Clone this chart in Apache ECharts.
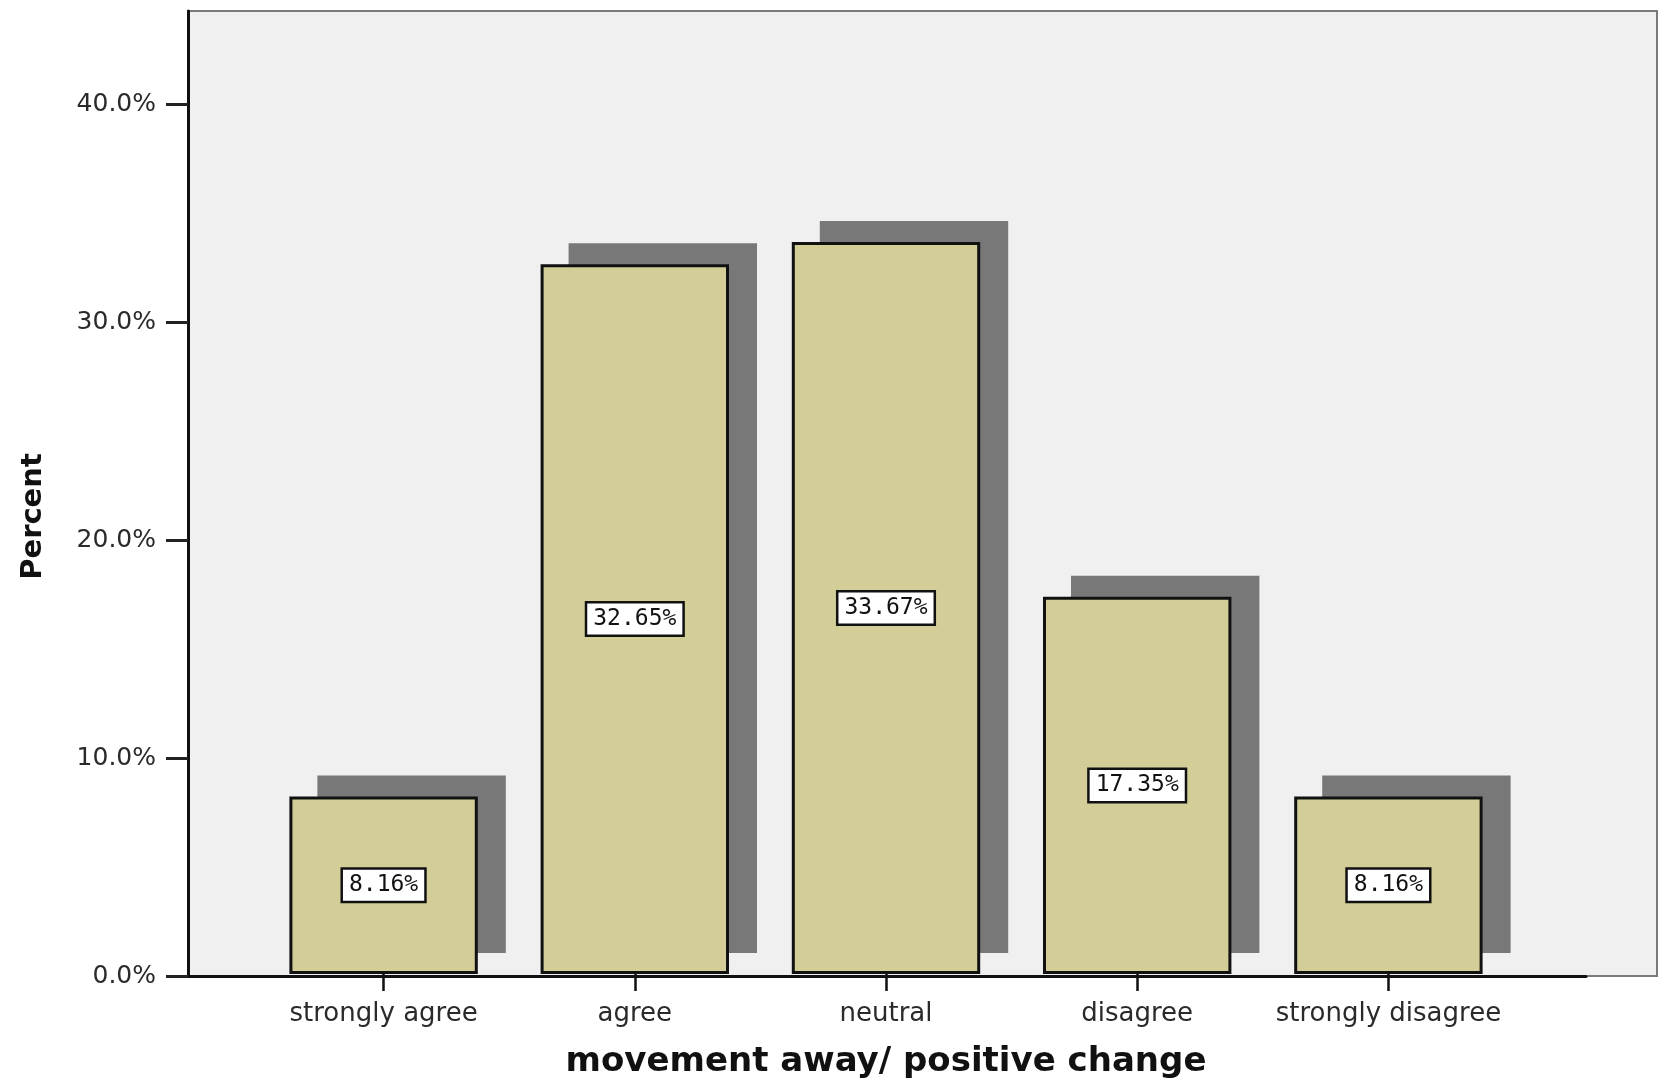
<!DOCTYPE html>
<html>
<head>
<meta charset="utf-8">
<script src="https://cdn.jsdelivr.net/npm/echarts@6/dist/echarts.min.js"></script>
<style>
html,body{margin:0;padding:0;background:#fff;}
#chart{width:1669px;height:1084px;}
</style>
</head>
<body>
<div id="chart"></div>
<script>
// ---- data ----
var categories = ['strongly agree', 'agree', 'neutral', 'disagree', 'strongly disagree'];
var percents = [8.16, 32.65, 33.67, 17.35, 8.16];
var yTicks = [0, 10, 20, 30, 40];
var xTitle = 'movement away/ positive change';
var yTitle = 'Percent';

// ---- layout / style ----
var Y_MAX = 44.3;
var SHADOW_DX = 28;
var SHADOW_DY = 21;
var BAR_FRAC = 0.75;

var chart = echarts.init(document.getElementById('chart'), null, {renderer: 'canvas'});

var option = {
  backgroundColor: '#ffffff',
  animation: false,
  grid: [
    {left: 188, right: 12, top: 11, bottom: 108, show: true, backgroundColor: '#f0f0f0', borderColor: '#7a7a7a', borderWidth: 2},
    {left: 188, right: 83, top: 11, bottom: 108},
    {left: 258, right: 155, top: 11, bottom: 108}
  ],
  xAxis: [
    {gridIndex: 0, type: 'value', show: false, min: 0, max: 1},
    {gridIndex: 1, type: 'value', min: 0, max: 1, position: 'bottom',
      axisLine: {show: true, onZero: false, lineStyle: {color: '#111', width: 3}},
      axisTick: {show: false}, axisLabel: {show: false}, splitLine: {show: false}},
    {gridIndex: 2, type: 'category', data: categories, position: 'bottom',
      axisLine: {show: false},
      axisTick: {show: true, interval: 0, alignWithLabel: true, length: 17, lineStyle: {color: '#111', width: 2.5}},
      axisLabel: {interval: 0, margin: 27, fontFamily: 'DejaVu Sans', fontSize: 26, color: '#2a2a2a'},
      name: xTitle, nameLocation: 'middle', nameGap: 71,
      nameTextStyle: {fontFamily: 'DejaVu Sans', fontWeight: 'bold', fontSize: 34, color: '#111'}
    }
  ],
  yAxis: [
    {gridIndex: 0, type: 'value', min: 0, max: Y_MAX,
      axisLine: {show: true, lineStyle: {color: '#111', width: 3}},
      axisTick: {show: true, length: 22, lineStyle: {color: '#222', width: 3}, customValues: yTicks},
      axisLabel: {margin: 32, fontFamily: 'DejaVu Sans', fontSize: 25, color: '#2a2a2a', customValues: yTicks,
        formatter: function (v) { return v.toFixed(1) + '%'; }},
      splitLine: {show: false},
      name: yTitle, nameLocation: 'middle', nameGap: 140, nameRotate: 90,
      nameTextStyle: {fontFamily: 'DejaVu Sans', fontWeight: 'bold', fontSize: 29, color: '#111', padding: [0, 46, 0, 0]}
    },
    {gridIndex: 1, type: 'value', min: 0, max: 1, show: false},
    {gridIndex: 2, type: 'value', min: 0, max: Y_MAX, show: false}
  ],
  series: [
    {
      type: 'custom', xAxisIndex: 2, yAxisIndex: 2, z: 1,
      data: categories.map(function (c, i) { return [i, percents[i]]; }),
      renderItem: function (params, api) {
        var x = api.value(0), v = api.value(1);
        var base = api.coord([x, 0]);
        var top = api.coord([x, v]);
        var w = api.size([1, 0])[0] * BAR_FRAC;
        return {
          type: 'rect',
          shape: {x: base[0] - w / 2 + SHADOW_DX, y: top[1] - SHADOW_DY, width: w, height: base[1] - top[1]},
          style: {fill: '#787878'}
        };
      }
    },
    {
      type: 'bar', xAxisIndex: 2, yAxisIndex: 2, z: 2,
      data: percents,
      barWidth: (BAR_FRAC * 100) + '%',
      itemStyle: {color: '#d3ce98', borderColor: '#111', borderWidth: 3},
      label: {
        show: true, position: 'inside',
        formatter: function (p) { return p.value.toFixed(2) + '%'; },
        fontFamily: 'DejaVu Sans Mono', fontSize: 23, color: '#111',
        backgroundColor: '#ffffff', borderColor: '#111', borderWidth: 2.5,
        padding: [5, 6, 3, 6]
      }
    }
  ]
};

chart.setOption(option);
</script>
</body>
</html>
